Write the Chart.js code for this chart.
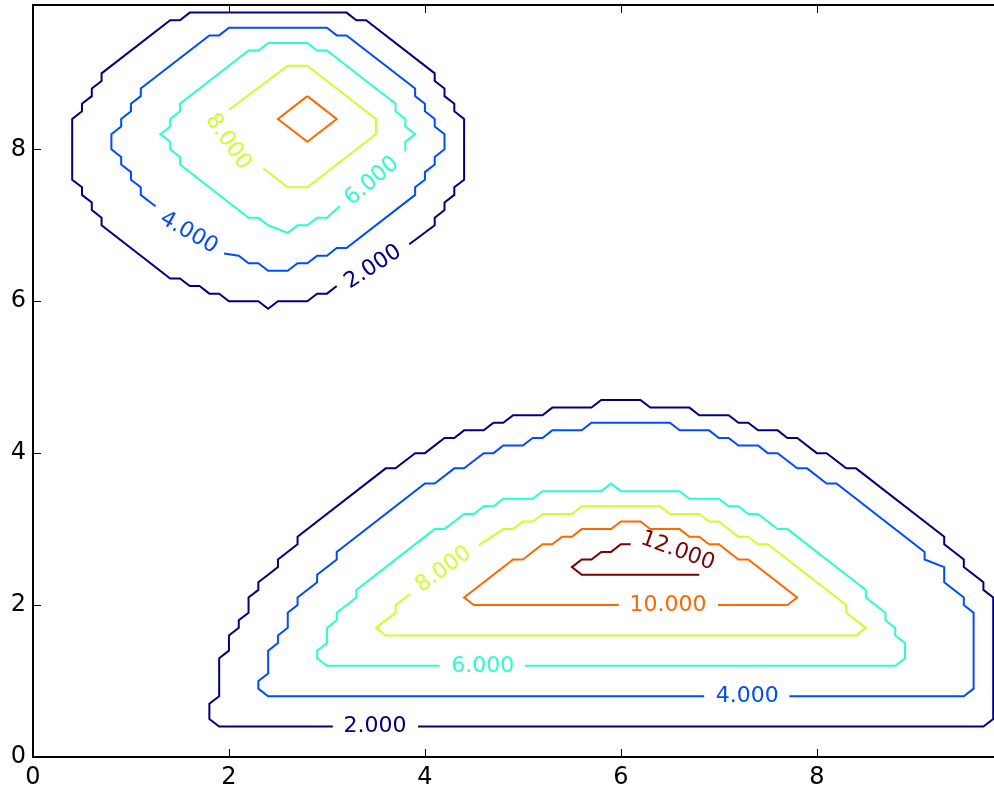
<!DOCTYPE html>
<html>
<head>
<meta charset="utf-8">
<script src="https://cdn.jsdelivr.net/npm/chart.js@4"></script>
<style>
  html, body { margin: 0; padding: 0; background: #fff; overflow: hidden; width: 994px; height: 789px; }
  #plot { position: absolute; left: 0; top: 0; }
</style>
</head>
<body>
<canvas id="plot" width="1010" height="789"></canvas>
<script>
// contour levels and jet colours
const levels = [2, 4, 6, 8, 10, 12];
const levelColors = ['#00007f', '#004cff', '#29ffce', '#ceff29', '#ff6800', '#7f0000'];

const xTicks = [0, 2, 4, 6, 8];
const yTicks = [0, 2, 4, 6, 8];

// upper-left hill
const hillA_2 = [[3.84,6.75],[4.1,7.0],[4.1,7.1],[4.2,7.2],[4.2,7.3],[4.3,7.4],[4.3,7.5],[4.4,7.6],[4.4,8.4],[4.3,8.5],[4.3,8.6],[4.2,8.7],[4.2,8.8],[4.1,8.9],[4.1,9.0],[3.4,9.7],[3.3,9.7],[3.2,9.8],[1.6,9.8],[1.5,9.7],[1.4,9.7],[0.7,9.0],[0.7,8.9],[0.6,8.8],[0.6,8.7],[0.5,8.6],[0.5,8.5],[0.4,8.4],[0.4,7.6],[0.5,7.5],[0.5,7.4],[0.6,7.3],[0.6,7.2],[0.7,7.1],[0.7,7.0],[1.4,6.3],[1.5,6.3],[1.6,6.2],[1.7,6.2],[1.8,6.1],[1.9,6.1],[2.0,6.0],[2.3,6.0],[2.4,5.9],[2.5,6.0],[2.8,6.0],[2.9,6.1],[3.0,6.1],[3.1,6.2]];
const hillA_4 = [[1.95,6.63],[2.1,6.6],[2.2,6.5],[2.3,6.5],[2.4,6.4],[2.6,6.4],[2.7,6.5],[2.8,6.5],[2.9,6.6],[3.0,6.6],[3.1,6.7],[3.2,6.7],[3.9,7.4],[3.9,7.5],[4.0,7.6],[4.0,7.7],[4.1,7.8],[4.1,7.9],[4.2,8.0],[4.2,8.2],[4.1,8.3],[4.1,8.4],[4.0,8.5],[4.0,8.6],[3.9,8.7],[3.9,8.8],[3.2,9.5],[3.1,9.5],[3.0,9.6],[2.0,9.6],[1.9,9.5],[1.8,9.5],[1.1,8.8],[1.1,8.7],[1.0,8.6],[1.0,8.5],[0.9,8.4],[0.9,8.3],[0.8,8.2],[0.8,8.0],[0.9,7.9],[0.9,7.8],[1.0,7.7],[1.0,7.6],[1.1,7.5],[1.1,7.4],[1.25,7.25]];
const hillA_6 = [[3.8,7.97],[3.8,8.1],[3.9,8.2],[3.8,8.3],[3.8,8.4],[3.7,8.5],[3.7,8.6],[3.0,9.3],[2.9,9.3],[2.8,9.4],[2.4,9.4],[2.3,9.3],[2.2,9.3],[1.5,8.6],[1.5,8.5],[1.4,8.4],[1.4,8.3],[1.3,8.2],[1.4,8.1],[1.4,8.0],[1.5,7.9],[1.5,7.8],[2.2,7.1],[2.3,7.1],[2.4,7.0],[2.6,6.9],[2.7,7.0],[2.8,7.0],[2.9,7.1],[3.0,7.1],[3.13,7.25]];
const hillA_8 = [[2.35,7.75],[2.6,7.5],[2.8,7.5],[3.5,8.2],[3.5,8.4],[2.8,9.1],[2.6,9.1],[2.0,8.52]];
const hillA_10 = [[2.8,8.7],[3.1,8.4],[2.8,8.1],[2.5,8.4],[2.8,8.7]];

// lower-right hill
const hillB_2 = [[3.93,0.4],[9.7,0.4],[9.8,0.5],[9.8,2.1],[9.7,2.2],[9.7,2.3],[9.5,2.5],[9.5,2.6],[9.3,2.8],[9.3,2.9],[8.4,3.8],[8.3,3.8],[8.1,4.0],[8.0,4.0],[7.8,4.2],[7.7,4.2],[7.6,4.3],[7.4,4.3],[7.3,4.4],[7.2,4.4],[7.1,4.5],[6.8,4.5],[6.7,4.6],[6.3,4.6],[6.2,4.7],[5.8,4.7],[5.7,4.6],[5.3,4.6],[5.2,4.5],[4.9,4.5],[4.8,4.4],[4.7,4.4],[4.6,4.3],[4.4,4.3],[4.3,4.2],[4.2,4.2],[4.0,4.0],[3.9,4.0],[3.7,3.8],[3.6,3.8],[2.7,2.9],[2.7,2.8],[2.5,2.6],[2.5,2.5],[2.4,2.4],[2.3,2.3],[2.3,2.2],[2.2,2.1],[2.2,1.9],[2.1,1.8],[2.1,1.7],[2.0,1.6],[2.0,1.4],[1.9,1.3],[1.9,0.8],[1.8,0.7],[1.8,0.5],[1.9,0.4],[3.06,0.4]];
const hillB_4 = [[7.72,0.8],[9.5,0.8],[9.6,0.9],[9.6,1.9],[9.5,2.0],[9.5,2.1],[9.3,2.3],[9.3,2.5],[9.1,2.6],[9.1,2.7],[8.2,3.6],[8.1,3.6],[7.9,3.8],[7.8,3.8],[7.6,4.0],[7.5,4.0],[7.4,4.1],[7.2,4.1],[7.1,4.2],[7.0,4.2],[6.9,4.3],[6.6,4.3],[6.5,4.4],[5.7,4.4],[5.6,4.3],[5.3,4.3],[5.2,4.2],[5.1,4.2],[5.0,4.1],[4.8,4.1],[4.7,4.0],[4.6,4.0],[4.4,3.8],[4.3,3.8],[4.1,3.6],[4.0,3.6],[3.1,2.7],[3.1,2.6],[2.9,2.4],[2.9,2.3],[2.7,2.1],[2.7,2.0],[2.6,1.9],[2.6,1.7],[2.5,1.6],[2.5,1.5],[2.4,1.4],[2.4,1.1],[2.3,1.0],[2.3,0.9],[2.4,0.8],[6.85,0.8]];
const hillB_6 = [[5.02,1.2],[8.8,1.2],[8.9,1.3],[8.9,1.5],[8.8,1.6],[8.8,1.7],[8.7,1.8],[8.7,1.9],[8.5,2.1],[8.5,2.2],[7.7,3.0],[7.6,3.0],[7.4,3.2],[7.3,3.2],[7.2,3.3],[7.1,3.3],[7.0,3.4],[6.7,3.4],[6.6,3.5],[6.0,3.5],[5.9,3.6],[5.8,3.5],[5.2,3.5],[5.1,3.4],[4.8,3.4],[4.7,3.3],[4.6,3.3],[4.5,3.2],[4.4,3.2],[4.2,3.0],[4.1,3.0],[3.3,2.2],[3.3,2.1],[3.1,1.9],[3.1,1.8],[3.0,1.7],[3.0,1.5],[2.9,1.4],[2.9,1.3],[3.0,1.2],[4.15,1.2]];
const hillB_8 = [[4.55,2.79],[4.8,3.0],[4.9,3.0],[5.0,3.1],[5.1,3.1],[5.2,3.2],[5.5,3.2],[5.6,3.3],[6.4,3.3],[6.5,3.2],[6.8,3.2],[6.9,3.1],[7.0,3.1],[7.2,2.9],[7.3,2.9],[7.4,2.8],[7.5,2.8],[8.3,2.0],[8.3,1.9],[8.5,1.7],[8.4,1.6],[3.6,1.6],[3.5,1.7],[3.7,1.9],[3.7,2.0],[3.85,2.15]];
const hillB_10 = [[6.99,2.0],[7.7,2.0],[7.8,2.1],[7.3,2.6],[7.2,2.6],[7.0,2.8],[6.9,2.8],[6.8,2.9],[6.7,2.9],[6.6,3.0],[6.3,3.0],[6.2,3.1],[6.0,3.1],[5.9,3.0],[5.6,3.0],[5.5,2.9],[5.4,2.9],[5.3,2.8],[5.2,2.8],[5.0,2.6],[4.9,2.6],[4.4,2.1],[4.5,2.0],[5.98,2.0]];
const hillB_12 = [[6.1,2.8],[6.0,2.8],[5.9,2.7],[5.8,2.7],[5.7,2.6],[5.6,2.6],[5.5,2.5],[5.6,2.4],[6.8,2.4]];

// inline contour labels
const labelX = [3.47, 1.59, 3.46, 1.99, 3.49, 7.29, 4.59, 4.19, 6.48, 6.58];
const labelY = [6.45, 6.90, 7.58, 8.10, 0.40, 0.80, 1.20, 2.47, 2.00, 2.71];
const labelAngle = [-33, 30, -40, 55, 0, 0, 0, -36, 0, 20];
const labelLevel = [0, 1, 2, 3, 0, 1, 2, 3, 4, 5];

const contours = [
	[hillA_2, 0], [hillA_4, 1], [hillA_6, 2], [hillA_8, 3], [hillA_10, 4],
	[hillB_2, 0], [hillB_4, 1], [hillB_6, 2], [hillB_8, 3], [hillB_10, 4], [hillB_12, 5]
];

const fontFamily = 'DejaVu Sans';

const datasets = contours.map(function(c){
	return {
		data: c[0].map(p => ({x: p[0], y: p[1]})),
		borderColor: levelColors[c[1]],
		borderWidth: 2,
		pointRadius: 0,
		fill: false,
		tension: 0
	};
});

// frame with inward ticks + contour labels
const framePlugin = {
	id: 'frame',
	afterDatasetsDraw(chart) {
		const ctx = chart.ctx;
		const a = chart.chartArea;
		const xs = chart.scales.x, ys = chart.scales.y;
		ctx.save();
		ctx.strokeStyle = '#000';
		ctx.lineWidth = 1;
		ctx.beginPath();
		xTicks.forEach(function(v){
			const px = Math.round(xs.getPixelForValue(v)) + 0.5;
			ctx.moveTo(px, a.bottom); ctx.lineTo(px, a.bottom - 8);
			ctx.moveTo(px, a.top); ctx.lineTo(px, a.top + 8);
		});
		yTicks.forEach(function(v){
			const py = Math.round(ys.getPixelForValue(v)) + 0.5;
			ctx.moveTo(a.left, py); ctx.lineTo(a.left + 8, py);
			ctx.moveTo(a.right, py); ctx.lineTo(a.right - 8, py);
		});
		ctx.stroke();
		ctx.lineWidth = 2;
		ctx.strokeRect(a.left, a.top, a.right - a.left, a.bottom - a.top);

		ctx.font = '22px "' + fontFamily + '"';
		ctx.textAlign = 'center';
		ctx.textBaseline = 'middle';
		for (let i = 0; i < labelX.length; i++) {
			ctx.save();
			ctx.translate(xs.getPixelForValue(labelX[i]), ys.getPixelForValue(labelY[i]));
			ctx.rotate(labelAngle[i] * Math.PI / 180);
			ctx.fillStyle = levelColors[labelLevel[i]];
			ctx.fillText(levels[labelLevel[i]].toFixed(3), 0, 0);
			ctx.restore();
		}
		ctx.restore();
	}
};

new Chart(document.getElementById('plot'), {
	type: 'line',
	data: { datasets: datasets },
	options: {
		responsive: false,
		animation: false,
		events: [],
		layout: { padding: { top: 5, right: 7, left: 0, bottom: 0 } },
		plugins: { legend: { display: false }, tooltip: { enabled: false } },
		scales: {
			x: {
				type: 'linear',
				min: 0,
				max: 9.9,
				grid: { display: false, drawTicks: false },
				border: { display: false },
				ticks: {
					color: '#000',
					padding: 6,
					maxRotation: 0,
					autoSkip: false,
					font: { family: fontFamily, size: 24 }
				},
				afterBuildTicks: function(s){ s.ticks = xTicks.map(v => ({value: v})); },
				afterFit: function(s){ s.height = 32; s.paddingLeft = 0; s.paddingRight = 0; }
			},
			y: {
				type: 'linear',
				min: 0,
				max: 9.9,
				grid: { display: false, drawTicks: false },
				border: { display: false },
				ticks: {
					color: '#000',
					padding: 7,
					autoSkip: false,
					font: { family: fontFamily, size: 24 }
				},
				afterBuildTicks: function(s){ s.ticks = yTicks.map(v => ({value: v})); },
				afterFit: function(s){ s.width = 33; s.paddingTop = 0; s.paddingBottom = 0; }
			}
		}
	},
	plugins: [framePlugin]
});
</script>
</body>
</html>
